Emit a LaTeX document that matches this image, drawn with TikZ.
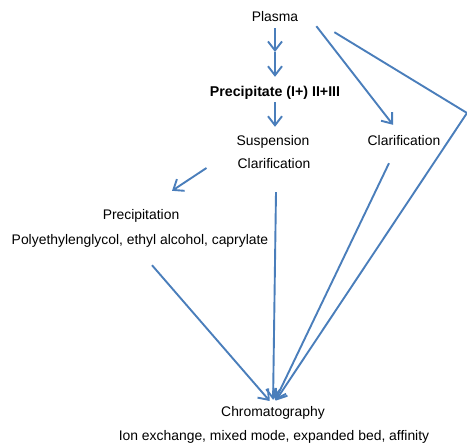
\documentclass[tikz,border=0pt]{standalone}
\usepackage{fontspec}
\setmainfont{Liberation Sans}
\usetikzlibrary{arrows.meta}
\definecolor{lineblue}{HTML}{4A7EBB}

\begin{document}
\begin{tikzpicture}[
    x=1pt, y=1pt,
    lbl/.style={inner sep=2pt, text height=10pt, text depth=3pt, font=\fontsize{13.9}{16}\selectfont},
    ln/.style={line width=1.9pt, draw=lineblue},
    arr/.style={ln, -{Straight Barb[length=9pt,width=14pt]}}
]
\useasboundingbox (0,0) rectangle (467,443);

\node[lbl] (plasma) at (275,424.5) {Plasma};
\node[lbl, font=\fontsize{14.2}{16}\selectfont\bfseries] (prec) at (275,349.5) {Precipitate (I+) II+III};
\node[lbl] (susp) at (273,300.5) {Suspension};
\node[lbl] (clar1) at (274,277.5) {Clarification};
\node[lbl] (clar2) at (404,300.5) {Clarification};
\node[lbl] (precip) at (141,226.5) {Precipitation};
\node[lbl] (agents) at (140,201.5) {Polyethylenglycol, ethyl alcohol, caprylate};
\node[lbl] (chrom) at (273,29.5) {Chromatography};
\node[lbl] (methods) at (274,5.5) {Ion exchange, mixed mode, expanded bed, affinity};

\coordinate (mid) at (275,391);
\coordinate (bend) at (467,330);

\draw[arr, shorten <=1pt] (plasma.south) -- (mid);
\draw[arr, shorten >=8pt] (mid) -- (mid |- prec.north);
\draw[arr, shorten >=7pt] (prec.south) -- (prec.south |- susp.north);
\draw[arr] ([xshift=16pt,yshift=1pt]plasma.south east) -- ([xshift=-11pt,yshift=9pt]clar2.north);
\draw[ln] ([xshift=34pt,yshift=-5pt]plasma.south east) -- (bend);
\draw[arr] ([xshift=-29pt,yshift=-2.5pt]clar1.west) -- ([xshift=31pt,yshift=17pt]precip.north);

\draw[arr, shorten >=5pt] (bend) -- (chrom.north);
\draw[arr, shorten >=5pt] ([xshift=2pt,yshift=-18pt]clar1.south) -- (chrom.north);
\draw[arr, shorten >=5pt] ([xshift=-15pt,yshift=-12pt]clar2.south) -- (chrom.north);
\draw[arr, shorten >=5pt] ([xshift=12pt,yshift=-15pt]agents.south) -- (chrom.north);

\end{tikzpicture}
\end{document}
